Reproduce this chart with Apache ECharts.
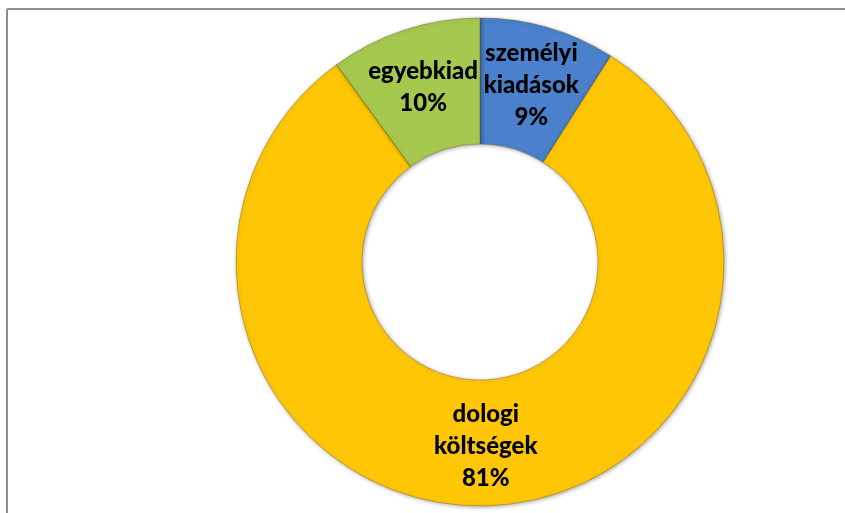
<!DOCTYPE html>
<html>
<head>
<meta charset="utf-8">
<script src="https://cdn.jsdelivr.net/npm/echarts@6/dist/echarts.min.js"></script>
<style>
  html, body { margin: 0; padding: 0; background: #fff; }
  #chart { width: 845px; height: 513px; }
</style>
</head>
<body>
<div id="chart"></div>
<script>
// kiadások megoszlása (%)
var names = ['személyi\nkiadások', 'dologi\nköltségek', 'egyebkiad'];
var values = [9, 81, 10];
var colors = ['#4A80CC', '#FFC605', '#A5C84F'];

var myChart = echarts.init(document.getElementById('chart'));

var data = [];
names.forEach(function (n, i) {
    data.push({
        name: n,
        value: values[i],
        itemStyle: { color: colors[i] }
    });
});

var option = {
    animation: false,
    graphic: [
        // frame (top + left edge visible)
        { type: 'line', shape: { x1: 7, y1: 9, x2: 845, y2: 9 }, style: { stroke: '#8f8f8f', lineWidth: 2 } },
        { type: 'line', shape: { x1: 7, y1: 9, x2: 7, y2: 513 }, style: { stroke: '#8f8f8f', lineWidth: 2 } }
    ],
    series: [{
        type: 'pie',
        center: [480, 262],
        radius: [118, 244],
        startAngle: 90,
        clockwise: true,
        avoidLabelOverlap: false,
        itemStyle: {
            borderColor: 'rgba(90,70,0,0.35)',
            borderWidth: 1,
            shadowBlur: 4,
            shadowColor: 'rgba(0,0,0,0.35)',
            shadowOffsetX: 1,
            shadowOffsetY: 1
        },
        label: {
            show: true,
            position: 'inside',
            formatter: '{b}\n{d}%',
            color: '#000',
            fontFamily: 'Lato',
            fontWeight: 900,
            fontSize: 24,
            lineHeight: 32,
            align: 'center'
        },
        labelLine: { show: false },
        data: data
    }]
};

myChart.setOption(option);
</script>
</body>
</html>
